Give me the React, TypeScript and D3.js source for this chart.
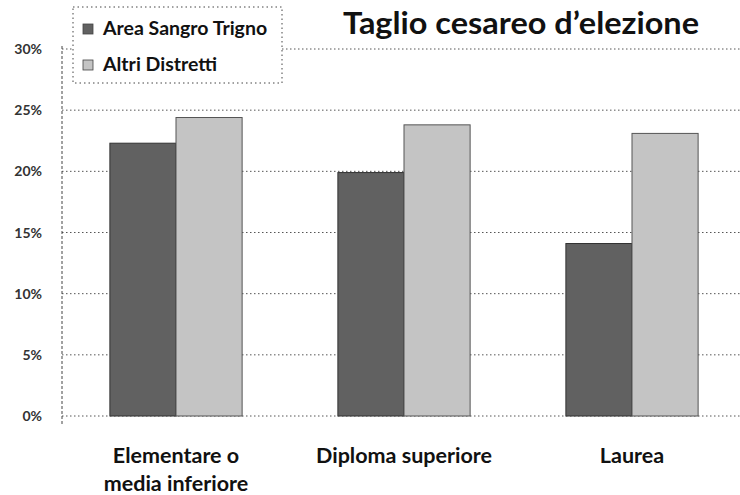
import React from "react";
import * as d3 from "d3";

const categories = ["Elementare o\nmedia inferiore", "Diploma superiore", "Laurea"];
const seriesNames = ["Area Sangro Trigno", "Altri Distretti"];
const areaSangroTrigno = [0.223, 0.199, 0.141];
const altriDistretti = [0.244, 0.238, 0.231];
const yTicks = [0, 0.05, 0.1, 0.15, 0.2, 0.25, 0.3];
const title = "Taglio cesareo d\u2019elezione";

const W = 740;
const H = 495;
const FONT = "Lato, 'Open Sans', sans-serif";
const colors = ["#616161", "#c4c4c4"];

export default function App() {
  const x0 = d3.scaleBand<string>().domain(categories).range([62, 746]).paddingInner(0).paddingOuter(0);
  const bw = x0.bandwidth();
  const x1 = d3.scaleBand<string>().domain(seriesNames).range([bw * 0.21, bw * 0.79]);
  const y = d3.scaleLinear().domain([0, 0.3]).range([416, 49]);
  const fmt = d3.format(".0%");
  const values = [areaSangroTrigno, altriDistretti];

  return (
    <svg width={W} height={H} style={{ position: "absolute", left: 0, top: 0, background: "#fff" }}>
      <rect x={0} y={0} width={W} height={H} fill="#fff" />
      {/* gridlines */}
      {yTicks.map((t) => (
        <line key={t} x1={62} x2={W} y1={y(t)} y2={y(t)} stroke="#555" strokeWidth={1} strokeDasharray="1.5,2.5" />
      ))}
      {/* y axis */}
      <line x1={62} x2={62} y1={y(0.3) - 3} y2={y(0) + 10} stroke="#444" strokeWidth={1} strokeDasharray="3,2" />
      {yTicks.map((t) => (
        <text key={"l" + t} x={42} y={y(t) + 5} textAnchor="end" fontFamily={FONT} fontSize={14} fontWeight={700} fill="#333">
          {fmt(t)}
        </text>
      ))}
      {/* bars */}
      {categories.map((c, i) => (
        <g key={c} transform={`translate(${x0(c)},0)`}>
          {seriesNames.map((s, j) => (
            <rect
              key={s}
              x={x1(s)}
              y={y(values[j][i])}
              width={x1.bandwidth()}
              height={y(0) - y(values[j][i])}
              fill={colors[j]}
              stroke={j === 1 ? "#555" : "#333"}
              strokeWidth={1}
            />
          ))}
        </g>
      ))}
      {/* x labels */}
      {categories.map((c) => {
        const lines = c.split("\n");
        const cx = (x0(c) as number) + bw / 2;
        return (
          <text key={"x" + c} x={cx} textAnchor="middle" fontFamily={FONT} fontSize={21.5} fontWeight={700} fill="#111">
            {lines.map((ln, k) => (
              <tspan key={k} x={cx} y={463 + k * 28}>
                {ln}
              </tspan>
            ))}
          </text>
        );
      })}
      {/* title */}
      <text x={521} y={34} textAnchor="middle" fontFamily={FONT} fontSize={31} fontWeight={700} fill="#111"
        textLength={356} lengthAdjust="spacingAndGlyphs">
        {title}
      </text>
      {/* legend */}
      <rect x={73} y={7} width={209} height={76} fill="#fff" stroke="#444" strokeWidth={1} strokeDasharray="1.5,3" />
      {seriesNames.map((s, j) => (
        <g key={"lg" + s}>
          <rect x={83} y={24 + j * 36} width={10} height={10} fill={colors[j]} stroke="#444" strokeWidth={0.8} />
          <text x={103} y={35 + j * 36} fontFamily={FONT} fontSize={19.5} fontWeight={700} fill="#111">
            {s}
          </text>
        </g>
      ))}
    </svg>
  );
}
